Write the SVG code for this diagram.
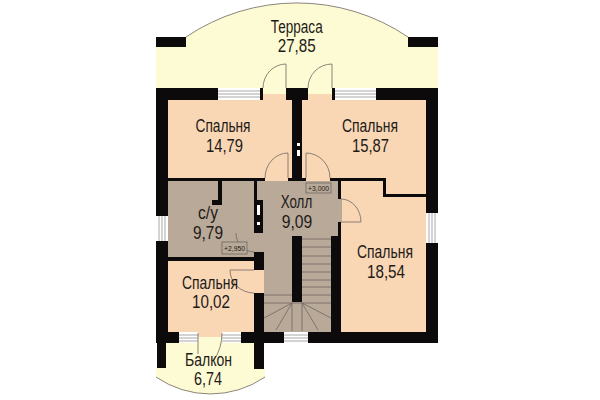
<svg xmlns="http://www.w3.org/2000/svg" width="600" height="400" viewBox="0 0 600 400">
<style>
.w{fill:#0c0a0a}
.p{fill:#f9d7b5}
.h{fill:#b9a999}
.t{fill:#fdfbd3}
.g{fill:#fff}
.l{fill:none;stroke:#6f665f;stroke-width:.8}
.wl{stroke:#a8a8a8;stroke-width:1}
text{font-family:"Liberation Sans",Arial,sans-serif;font-size:17.5px;fill:#1d1a18}
.s{font-size:7px;text-anchor:start}
.b{fill:#b9a999;stroke:#6f665f;stroke-width:.8}
</style>
<rect width="600" height="400" fill="#fff"/>
<g id="terrace">
<path class="t" d="M156 95V37H186A198 198 0 0 1 408 37H438V95Z"/>
<path class="l" d="M186 37A198 198 0 0 1 408 37"/>
<rect class="w" x="156" y="37" width="30" height="10"/>
<rect class="w" x="408" y="37" width="30" height="10"/>
</g>
<g id="balcony">
<path class="t" d="M166 337H254V368H265V377A96 96 0 0 1 156 377V368H166Z"/>
<path class="l" d="M265 377A96 96 0 0 1 156 377"/>
</g>
<g id="rooms">
<rect class="p" x="168" y="94" width="124" height="86"/>
<path class="p" d="M302 94H426V197H385V180H302Z"/>
<path class="p" d="M341 178H383V197H426V332H341Z"/>
<rect class="p" x="168" y="261" width="90" height="72"/>
<rect class="p" x="198" y="332" width="24" height="5"/>
<path class="h" d="M168 180H338V332H263V293H254V270H263V252H254V180Z"/>
<rect class="h" x="168" y="180" width="90" height="77"/>
<rect class="p" x="254" y="270" width="10" height="23"/>
<rect class="p" x="265" y="177" width="23" height="4"/>
<rect class="p" x="306" y="177" width="24" height="4"/>
<rect class="h" x="337" y="199" width="5" height="23"/>
</g>
<g id="walls">
<rect class="w" x="156" y="88" width="104" height="12"/>
<rect class="w" x="260" y="88" width="3" height="12"/>
<rect class="w" x="286" y="88" width="22" height="12"/>
<rect class="w" x="332" y="88" width="3" height="12"/>
<rect class="w" x="376" y="88" width="62" height="12"/>
<rect class="w" x="156" y="88" width="12" height="255"/>
<rect class="w" x="426" y="88" width="12" height="255"/>
<rect class="w" x="292" y="100" width="10" height="78"/>
<rect class="w" x="168" y="178" width="97" height="3"/>
<rect class="w" x="288" y="178" width="18" height="3"/>
<rect class="w" x="330" y="178" width="55" height="3"/>
<rect class="w" x="383" y="178" width="3" height="19"/>
<rect class="w" x="383" y="194" width="43" height="3"/>
<rect class="w" x="338" y="178" width="3" height="21"/>
<rect class="w" x="338" y="222" width="3" height="111"/>
<rect class="w" x="331" y="236" width="7" height="97"/>
<rect class="w" x="218" y="180" width="4" height="25"/>
<rect class="w" x="212" y="200" width="10" height="5"/>
<rect class="w" x="254" y="180" width="3" height="20"/>
<rect class="w" x="254" y="200" width="9" height="33"/>
<rect class="w" x="168" y="257" width="90" height="4"/>
<rect class="w" x="254" y="252" width="10" height="18"/>
<rect class="w" x="254" y="293" width="10" height="76"/>
<rect class="w" x="292" y="236" width="10" height="66"/>
<rect class="w" x="156" y="332" width="42" height="11"/>
<rect class="w" x="222" y="332" width="62" height="11"/>
<rect class="w" x="308" y="332" width="130" height="11"/>
<rect class="w" x="157" y="343" width="9" height="25"/>
<rect class="g" x="297" y="143" width="3" height="3"/>
<rect class="g" x="297" y="150" width="3" height="6"/>
<rect class="g" x="257" y="205" width="3" height="10"/>
<rect class="g" x="257" y="222" width="3" height="3"/>
</g>
<g id="windows">
<rect class="g" x="218" y="88" width="42" height="12"/>
<path class="wl" d="M218 91H260M218 94H260M218 97H260"/>
<rect class="g" x="335" y="88" width="41" height="12"/>
<path class="wl" d="M335 91H376M335 94H376M335 97H376"/>
<rect class="g" x="156" y="216" width="12" height="25"/>
<path class="wl" d="M159 216V241M162 216V241M165 216V241"/>
<rect class="g" x="426" y="213" width="12" height="30"/>
<path class="wl" d="M429 213V243M432 213V243M435 213V243"/>
<rect class="g" x="179" y="332" width="19" height="11"/>
<path class="wl" d="M179 335H198M179 338H198M179 341H198"/>
<rect class="g" x="222" y="332" width="19" height="11"/>
<path class="wl" d="M222 335H241M222 338H241M222 341H241"/>
<rect class="g" x="284" y="332" width="24" height="11"/>
<path class="wl" d="M284 335H308M284 338H308M284 341H308"/>
</g>
<g id="doors">
<path class="l" d="M286 64V88M286 64A23 24 0 0 0 263 88"/>
<path class="l" d="M332 64V88M332 64A24 24 0 0 0 308 88"/>
<path class="l" d="M288 153V178M288 153A23 25 0 0 0 265 178"/>
<path class="l" d="M306 153V178M306 153A24 25 0 0 1 330 178"/>
<path class="l" d="M341 199A20 23 0 0 1 361 222H341"/>
<path class="l" d="M236 233A19 19 0 0 0 254 252"/>
<path class="l" d="M230 270H254M230 270A24 23 0 0 0 254 293"/>
<path class="l" d="M198 333V354M222 333Q222 348 214 360"/>
</g>
<g id="stairs">
<path class="l" d="M302 239H331M302 247H331M302 256H331M302 264H331M302 272H331M302 280H331M302 287H331M302 295H331M264 295H292M264 303H331"/>
<path class="l" d="M292 303L264 318M292 303L276 330M292 303V331M302 303V331M302 303L318 330M302 303L331 318"/>
</g>
<g id="labels">
<text x="270.7" y="33" textLength="52" lengthAdjust="spacingAndGlyphs">Терраса</text>
<text x="277.7" y="52" textLength="38" lengthAdjust="spacingAndGlyphs">27,85</text>
<text x="195.5" y="132" textLength="55" lengthAdjust="spacingAndGlyphs">Спальня</text>
<text x="206" y="152" textLength="37" lengthAdjust="spacingAndGlyphs">14,79</text>
<text x="342" y="132" textLength="56" lengthAdjust="spacingAndGlyphs">Спальня</text>
<text x="352" y="152" textLength="37" lengthAdjust="spacingAndGlyphs">15,87</text>
<text x="280.7" y="208" textLength="31.5" lengthAdjust="spacingAndGlyphs">Холл</text>
<text x="281.7" y="228" textLength="30.5" lengthAdjust="spacingAndGlyphs">9,09</text>
<text x="357" y="258" textLength="56" lengthAdjust="spacingAndGlyphs">Спальня</text>
<text x="367" y="278" textLength="38" lengthAdjust="spacingAndGlyphs">18,54</text>
<text x="198" y="219" textLength="20" lengthAdjust="spacingAndGlyphs">с/у</text>
<text x="193" y="239" textLength="30" lengthAdjust="spacingAndGlyphs">9,79</text>
<text x="182" y="289" textLength="56" lengthAdjust="spacingAndGlyphs">Спальня</text>
<text x="192" y="308" textLength="38" lengthAdjust="spacingAndGlyphs">10,02</text>
<text x="185" y="366" textLength="47" lengthAdjust="spacingAndGlyphs">Балкон</text>
<text x="194" y="385" textLength="28" lengthAdjust="spacingAndGlyphs">6,74</text>
<rect class="b" x="306" y="183" width="25" height="10"/>
<text class="s" x="308" y="191" textLength="21" lengthAdjust="spacingAndGlyphs">+3,000</text>
<rect class="b" x="222" y="242" width="25" height="12"/>
<text class="s" x="224" y="251" textLength="21" lengthAdjust="spacingAndGlyphs">+2,950</text>
</g>
</svg>
